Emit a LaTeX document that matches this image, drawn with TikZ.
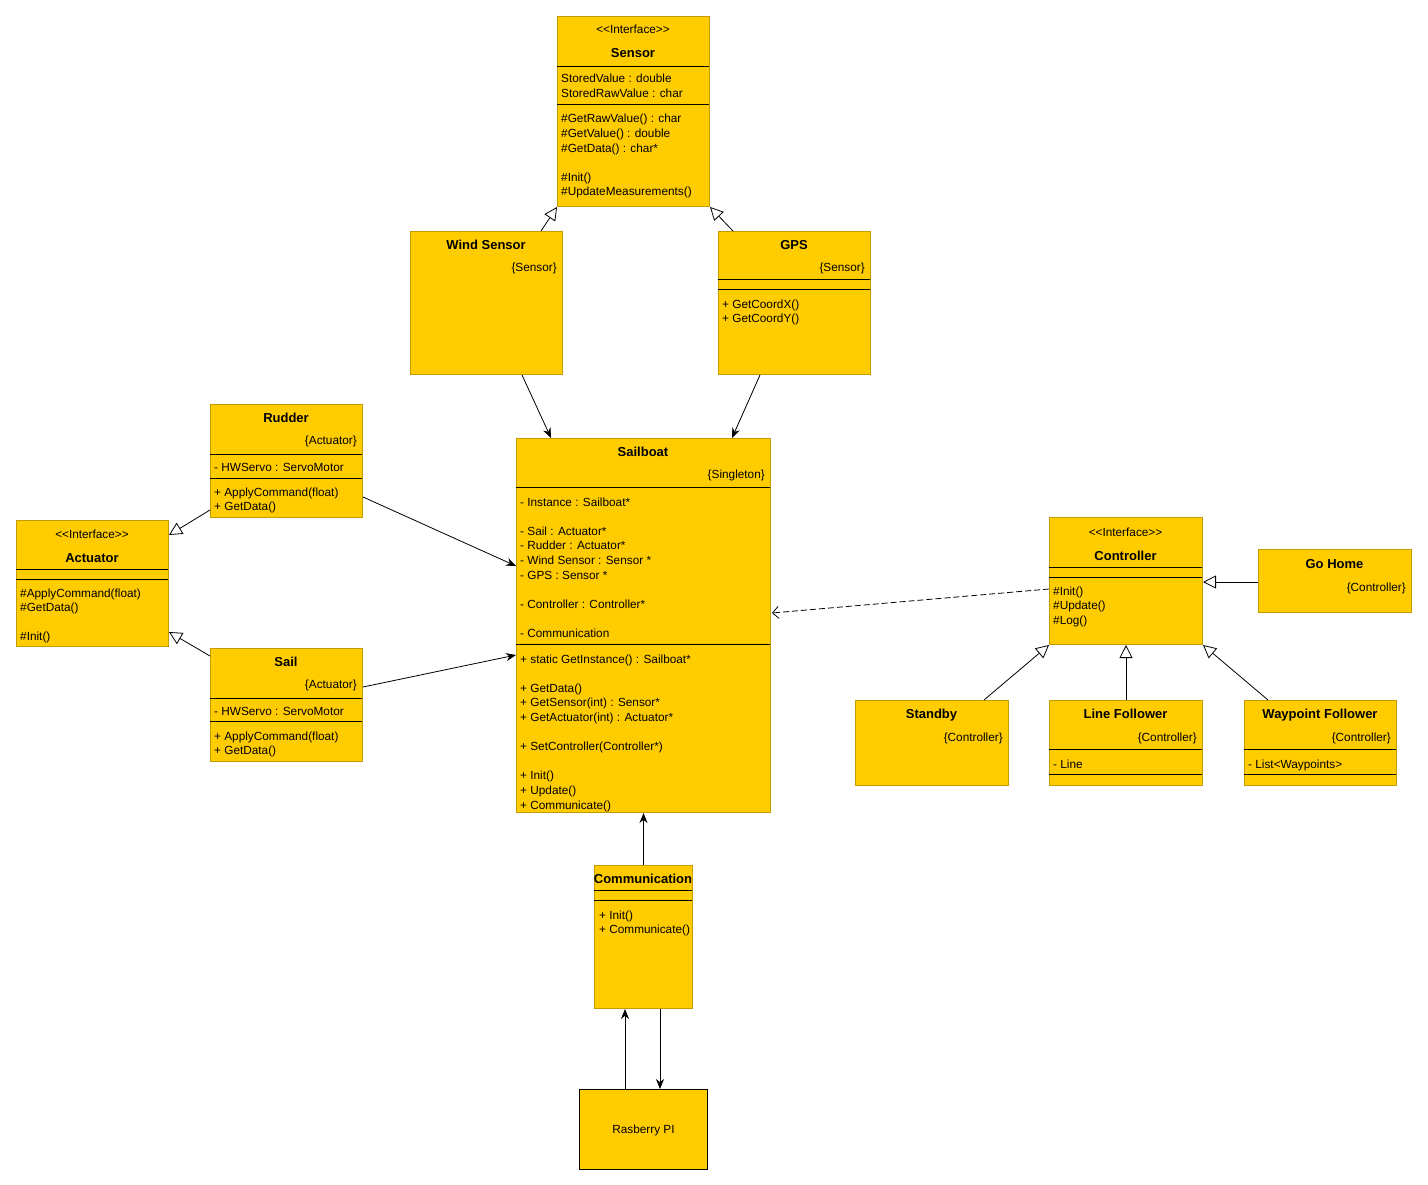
\documentclass[tikz,border=0pt]{standalone}
\usepackage{fontspec}
\setmainfont{Liberation Sans}
\usetikzlibrary{arrows.meta,calc}
\definecolor{boxfill}{RGB}{255,204,0}
\definecolor{boxline}{RGB}{196,156,0}
\begin{document}
\begin{tikzpicture}[x=1pt,y=-1pt,
  box/.style={draw=boxline, fill=boxfill, line width=1pt, inner sep=0pt, anchor=north west},
  bodyfont/.style={font=\fontsize{11.8}{14.6}\selectfont},
  body/.style={bodyfont, inner sep=0pt, yshift=-1pt},
  ttl/.style={font=\fontsize{13}{15}\selectfont\bfseries, inner sep=0pt, anchor=base, yshift=-1pt},
  ster/.style={body, anchor=base},
  tag/.style={body, anchor=base east},
  lines/.style={body, anchor=base west, align=left},
  sep/.style={line width=1pt, draw=black},
  inh/.style={draw, line width=0.8pt, -{Triangle[open, fill=white, length=13pt, width=13pt]}},
  assoc/.style={draw, line width=0.8pt, -{Stealth[length=10pt, width=8pt]}},
  depend/.style={draw, line width=0.8pt, dash pattern=on 6pt off 3pt, -{Straight Barb[length=6pt, width=12pt]}}
]
\useasboundingbox[fill=white] (0,0) rectangle (1428,1185);
% note: multi-line nodes are placed by the baseline of their LAST line

% ---------- Sensor ----------
\node[box, minimum width=152pt, minimum height=190pt] (sensor) at (557,16) {};
\node[ster] (sensorst) at (633,33) {{<}{<}Interface{>}{>}};
\node[ttl] (sensort) at (633,56.5) {Sensor};
\draw[sep] (557,67) -- (709,67);
\node[lines] (sensora) at (561,96.6) {StoredValue : double\\StoredRawValue : char};
\draw[sep] (557,105) -- (709,105);
\node[lines] (sensorm) at (561,195) {\#GetRawValue() : char\\\#GetValue() : double\\\#GetData() : char*\\[14.6pt]\#Init()\\\#UpdateMeasurements()};

% ---------- Wind Sensor ----------
\node[box, minimum width=152pt, minimum height=143pt] (wind) at (410,231) {};
\node[ttl] (windt) at (486,248.5) {Wind Sensor};
\node[tag] (windg) at (557,271) {\{Sensor\}};

% ---------- GPS ----------
\node[box, minimum width=152pt, minimum height=143pt] (gps) at (718,231) {};
\node[ttl] (gpst) at (794,248.5) {GPS};
\node[tag] (gpsg) at (865,271) {\{Sensor\}};
\draw[sep] (718,280) -- (870,280);
\draw[sep] (718,290) -- (870,290);
\node[lines] (gpsm) at (722,321.6) {+ GetCoordX()\\+ GetCoordY()};

% ---------- Sailboat ----------
\node[box, minimum width=254pt, minimum height=374pt] (boat) at (516,438) {};
\node[ttl] (boatt) at (643,455.5) {Sailboat};
\node[tag] (boatg) at (765,477) {\{Singleton\}};
\draw[sep] (516,487) -- (770,487);
\node[lines] (boata) at (520,636.4) {- Instance : Sailboat*\\[14.6pt]- Sail : Actuator*\\- Rudder : Actuator*\\- Wind Sensor : Sensor *\\- GPS : Sensor *\\[14.6pt]- Controller : Controller*\\[14.6pt]- Communication};
\draw[sep] (516,644) -- (770,644);
\node[lines] (boatm) at (520,808) {+ static GetInstance() : Sailboat*\\[14.6pt]+ GetData()\\+ GetSensor(int) : Sensor*\\+ GetActuator(int) : Actuator*\\[14.6pt]+ SetController(Controller*)\\[14.6pt]+ Init()\\+ Update()\\+ Communicate()};

% ---------- Rudder ----------
\node[box, minimum width=152pt, minimum height=113pt] (rudder) at (210,404) {};
\node[ttl] (ruddert) at (286,421.5) {Rudder};
\node[tag] (rudderg) at (357,443) {\{Actuator\}};
\draw[sep] (210,454) -- (362,454);
\node[lines] (ruddera) at (214,470) {- HWServo : ServoMotor};
\draw[sep] (210,478) -- (362,478);
\node[lines] (rudderm) at (214,509.6) {+ ApplyCommand(float)\\+ GetData()};

% ---------- Sail ----------
\node[box, minimum width=152pt, minimum height=113pt] (sail) at (210,648) {};
\node[ttl] (sailt) at (286,665.5) {Sail};
\node[tag] (sailg) at (357,687) {\{Actuator\}};
\draw[sep] (210,698) -- (362,698);
\node[lines] (saila) at (214,714) {- HWServo : ServoMotor};
\draw[sep] (210,721) -- (362,721);
\node[lines] (sailm) at (214,753.6) {+ ApplyCommand(float)\\+ GetData()};

% ---------- Actuator ----------
\node[box, minimum width=152pt, minimum height=126pt] (act) at (16,520) {};
\node[ster] (actst) at (92,537) {{<}{<}Interface{>}{>}};
\node[ttl] (actt) at (92,561.5) {Actuator};
\draw[sep] (16,569) -- (168,569);
\draw[sep] (16,579) -- (168,579);
\node[lines] (actm) at (20,639.8) {\#ApplyCommand(float)\\\#GetData()\\[14.6pt]\#Init()};

% ---------- Controller ----------
\node[box, minimum width=153pt, minimum height=127pt] (ctrl) at (1049,517) {};
\node[ster] (ctrlst) at (1125.5,535) {{<}{<}Interface{>}{>}};
\node[ttl] (ctrlt) at (1125.5,559.5) {Controller};
\draw[sep] (1049,567) -- (1202,567);
\draw[sep] (1049,577) -- (1202,577);
\node[lines] (ctrlm) at (1053,623.2) {\#Init()\\\#Update()\\\#Log()};

% ---------- Go Home ----------
\node[box, minimum width=153pt, minimum height=63pt] (home) at (1258,549) {};
\node[ttl] (homet) at (1334.5,567.5) {Go Home};
\node[tag] (homeg) at (1406,590) {\{Controller\}};

% ---------- Standby ----------
\node[box, minimum width=153pt, minimum height=85pt] (stand) at (855,700) {};
\node[ttl] (standt) at (931.5,717.5) {Standby};
\node[tag] (standg) at (1003,740) {\{Controller\}};

% ---------- Line Follower ----------
\node[box, minimum width=153pt, minimum height=85pt] (linef) at (1049,700) {};
\node[ttl] (lineft) at (1125.5,717.5) {Line Follower};
\node[tag] (linefg) at (1197,740) {\{Controller\}};
\draw[sep] (1049,749) -- (1202,749);
\node[lines] (linefa) at (1053,767) {- Line};
\draw[sep] (1049,774) -- (1202,774);

% ---------- Waypoint Follower ----------
\node[box, minimum width=152pt, minimum height=85pt] (wayf) at (1244,700) {};
\node[ttl] (wayft) at (1320,717.5) {Waypoint Follower};
\node[tag] (wayfg) at (1391,740) {\{Controller\}};
\draw[sep] (1244,749) -- (1396,749);
\node[lines] (wayfa) at (1248,767) {- List<Waypoints>};
\draw[sep] (1244,774) -- (1396,774);

% ---------- Communication ----------
\node[box, minimum width=98pt, minimum height=143pt] (comm) at (594,865) {};
\node[ttl] (commt) at (643,882.5) {Communication};
\draw[sep] (594,890) -- (692,890);
\draw[sep] (594,900) -- (692,900);
\node[lines] (commm) at (599,932.6) {+ Init()\\+ Communicate()};

% ---------- Rasberry PI ----------
\node[box, draw=black, minimum width=128pt, minimum height=80pt, bodyfont, text depth=-1pt] (rpi) at (579,1089) {Rasberry PI};

% ---------- Connectors ----------
\draw[inh] ([xshift=131pt]wind.north west) -- (sensor.south west);
\draw[inh] ([xshift=15pt]gps.north west) -- (sensor.south east);
\draw[assoc] ([xshift=112pt]wind.south west) -- ([xshift=35pt]boat.north west);
\draw[assoc] ([xshift=42pt]gps.south west) -- ([xshift=216pt]boat.north west);
\draw[assoc] ([yshift=-93pt]rudder.north east) -- ([yshift=-128pt]boat.north west);
\draw[assoc] ([yshift=-39pt]sail.north east) -- ([yshift=-217pt]boat.north west);
\draw[inh] ([yshift=-106pt]rudder.north west) -- ([yshift=-15pt]act.north east);
\draw[inh] ([yshift=-8pt]sail.north west) -- ([yshift=-112pt]act.north east);
\draw[depend] ([yshift=-72pt]ctrl.north west) -- ([yshift=-175pt,xshift=1pt]boat.north east);
\draw[inh] ([yshift=-33pt]home.north west) -- ([yshift=-65pt]ctrl.north east);
\draw[inh] ([xshift=129pt]stand.north west) -- (ctrl.south west);
\draw[inh] (linef.north) -- (ctrl.south);
\draw[inh] ([xshift=24pt]wayf.north west) -- (ctrl.south east);
\draw[assoc] (comm.north) -- (boat.south);
\draw[assoc] ([xshift=46pt]rpi.north west) -- ([xshift=31pt]comm.south west);
\draw[assoc] ([xshift=66pt]comm.south west) -- ([xshift=81pt]rpi.north west);
\end{tikzpicture}
\end{document}
